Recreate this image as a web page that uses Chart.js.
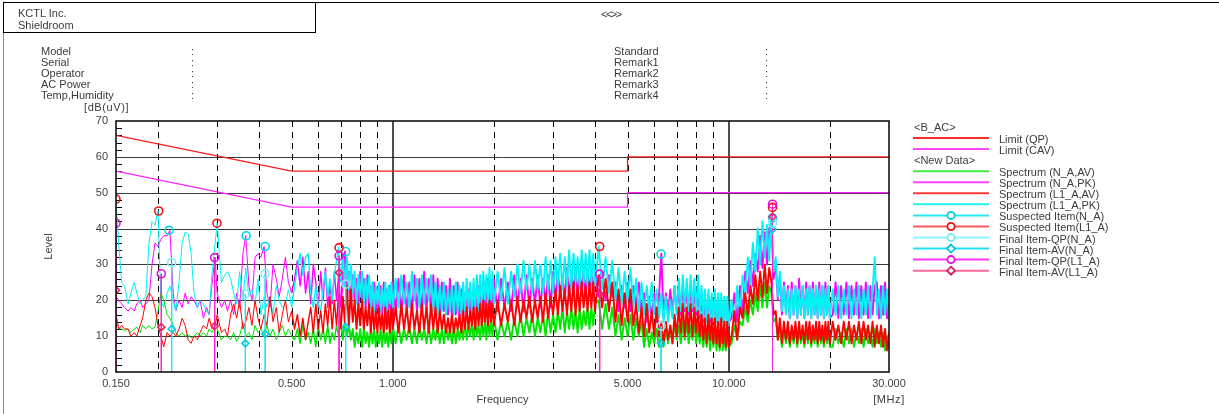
<!DOCTYPE html>
<html><head><meta charset="utf-8">
<script src="https://cdn.jsdelivr.net/npm/chart.js@4.4.1/dist/chart.umd.min.js"></script>
<style>
html,body{margin:0;padding:0;background:#fff;}
body{width:1219px;height:414px;position:relative;overflow:hidden;font-family:"Liberation Sans",Arial,sans-serif;font-size:11px;color:#3c3c3c;}
.t{position:absolute;white-space:nowrap;line-height:11px;font-size:11px;z-index:2;}
#c{position:absolute;left:0;top:0;z-index:1;}
#lg{position:absolute;left:0;top:0;z-index:2;}
</style></head><body>
<canvas id="c" width="1219" height="414"></canvas>
<div style="position:absolute;left:4px;top:2px;width:1215px;height:0;border-top:1.5px solid #000;z-index:2"></div>
<div style="position:absolute;left:3px;top:2px;width:0;height:412px;border-left:1.5px solid #8a8a8a;z-index:2"></div>
<div style="position:absolute;left:3px;top:2px;width:313px;height:31px;border:1.5px solid #000;box-sizing:border-box;z-index:2"></div>
<div class="t" style="left:18px;top:8px">KCTL Inc.</div>
<div class="t" style="left:18px;top:19.5px">Shieldroom</div>
<div class="t" style="left:601px;top:8.5px;letter-spacing:-1.5px">&lt;&lt;&gt;&gt;</div>
<div class="t" style="left:41px;top:45.5px">Model</div>
<div class="t" style="left:41px;top:56.5px">Serial</div>
<div class="t" style="left:41px;top:67.5px">Operator</div>
<div class="t" style="left:41px;top:78.5px">AC Power</div>
<div class="t" style="left:41px;top:89.5px">Temp,Humidity</div>
<div class="t" style="left:191px;top:45.5px">:</div>
<div class="t" style="left:191px;top:56.5px">:</div>
<div class="t" style="left:191px;top:67.5px">:</div>
<div class="t" style="left:191px;top:78.5px">:</div>
<div class="t" style="left:191px;top:89.5px">:</div>
<div class="t" style="left:614px;top:45.5px">Standard</div>
<div class="t" style="left:614px;top:56.5px">Remark1</div>
<div class="t" style="left:614px;top:67.5px">Remark2</div>
<div class="t" style="left:614px;top:78.5px">Remark3</div>
<div class="t" style="left:614px;top:89.5px">Remark4</div>
<div class="t" style="left:765px;top:45.5px">:</div>
<div class="t" style="left:765px;top:56.5px">:</div>
<div class="t" style="left:765px;top:67.5px">:</div>
<div class="t" style="left:765px;top:78.5px">:</div>
<div class="t" style="left:765px;top:89.5px">:</div>
<div class="t" style="left:84px;top:101.5px;letter-spacing:0.6px">[dB(uV)]</div>
<div class="t" style="left:859px;top:393.5px;width:60px;text-align:center;letter-spacing:0.6px">[MHz]</div>
<svg id="lg" width="1219" height="414"></svg>
<script>
// ---------------- DATA ----------------
const freqs = [
// 0.15 - 0.5
0.150,0.153,0.156,0.159,0.163,0.166,0.170,0.173,0.177,0.180,
0.184,0.188,0.192,0.196,0.200,0.204,0.208,0.213,0.217,0.222,
0.226,0.231,0.236,0.241,0.246,0.251,0.256,0.262,0.267,0.273,
0.279,0.284,0.290,0.296,0.300,0.309,0.316,0.322,0.329,0.336,
0.343,0.350,0.358,0.365,0.373,0.381,0.389,0.397,0.405,0.414,
0.422,0.431,0.440,0.450,0.459,0.469,0.479,0.489,0.500,
// 0.51 - 1.00
0.51,0.52,0.53,0.54,0.55,0.56,0.57,0.58,0.59,0.60,
0.61,0.62,0.63,0.64,0.65,0.66,0.67,0.68,0.69,0.70,
0.71,0.72,0.73,0.74,0.75,0.76,0.77,0.78,0.79,0.80,
0.81,0.82,0.83,0.84,0.85,0.86,0.87,0.88,0.89,0.90,
0.91,0.92,0.93,0.94,0.95,0.96,0.97,0.98,0.99,1.00,
// 1.02 - 2.00
1.02,1.04,1.06,1.08,1.10,1.12,1.14,1.16,1.18,1.20,
1.22,1.24,1.26,1.28,1.30,1.32,1.34,1.36,1.38,1.40,
1.42,1.44,1.46,1.48,1.50,1.52,1.54,1.56,1.58,1.60,
1.62,1.64,1.66,1.68,1.70,1.72,1.74,1.76,1.78,1.80,
1.82,1.84,1.86,1.88,1.90,1.92,1.94,1.96,1.98,2.00,
// 2.05 - 4.00
2.05,2.10,2.15,2.20,2.25,2.30,2.35,2.40,2.45,2.50,
2.55,2.60,2.65,2.70,2.75,2.80,2.85,2.90,2.95,3.00,
3.05,3.10,3.15,3.20,3.25,3.30,3.35,3.40,3.45,3.50,
3.55,3.60,3.65,3.70,3.75,3.80,3.85,3.90,3.95,4.00,
// 4.1 - 10.0
4.1,4.2,4.3,4.4,4.5,4.6,4.7,4.8,4.9,5.0,
5.1,5.2,5.3,5.4,5.5,5.6,5.7,5.8,5.9,6.0,
6.1,6.2,6.3,6.4,6.5,6.6,6.7,6.8,6.9,7.0,
7.1,7.2,7.3,7.4,7.5,7.6,7.7,7.8,7.9,8.0,
8.1,8.2,8.3,8.4,8.5,8.6,8.7,8.8,8.9,9.0,
9.1,9.2,9.3,9.4,9.5,9.6,9.7,9.8,9.9,10.0,
// 10.2 - 20.0
10.2,10.4,10.6,10.8,11.0,11.2,11.4,11.6,11.8,12.0,
12.2,12.4,12.6,12.8,13.0,13.2,13.4,13.6,13.8,14.0,
14.2,14.4,14.6,14.8,15.0,15.2,15.4,15.6,15.8,16.0,
16.2,16.4,16.6,16.8,17.0,17.2,17.4,17.6,17.8,18.0,
18.2,18.4,18.6,18.8,19.0,19.2,19.4,19.6,19.8,20.0,
// 20.4 - 30.0
20.4,20.8,21.2,21.6,22.0,22.4,22.8,23.2,23.6,24.0,
24.4,24.8,25.2,25.6,26.0,26.4,26.8,27.2,27.6,28.0,
28.4,28.8,29.2,29.6,30.0
];
// Spectrum (N_A,AV) - green
const naAV = [
14,12,12,11.5,12,11,12,12.5,11,13,
12,13,12,12.5,17,22,20,16,15,13,
11,10,11,10,10.5,9.5,10,11,10,11,
10,12,11,13,12,9,10,10,9,11,
8.5,10,14,10,11,9,13,11,12,10,
13,10,12,9,11,13,10,12,10,
9,12,8,13,9,11,8,12,7,13,
9,12,8,13,8,11,9,13,10,14,
9,14,10,13,9,12,7,11,8,12,
7,12,8,11,7,12,8,12,7,11,
8,12,7,12,8,11,7,12,8,13,
8,13,8,12,9,13,8,12,8,13,
9,12,8,13,8,12,9,13,8,12,
8,13,9,12,8,13,8,12,9,13,
9,14,9,13,10,14,9,14,10,13,
9,14,10,14,9,15,10,14,10,15,
9,14,10,14,9,15,10,16,10,15,
11,16,10,15,11,16,10,17,11,16,
11,17,12,18,11,17,12,18,12,17,
11,18,12,17,13,18,12,18,13,19,
20,12,19,12,18,10,16,9,15,10,
16,9,15,10,14,7,12,7,11,8,
12,7,11,7,12,8,13,8,14,9,
13,8,14,9,14,8,13,9,14,8,
13,8,13,7,12,7,13,6,12,7,
12,6,11,6,12,6,11,6,10,7,
8,13,9,14,13,18,14,20,16,22,
17,24,18,25,18,24,22,14,15,9,
13,7,12,8,12,7,11,8,12,7,
12,8,11,7,12,8,12,7,11,8,
12,7,12,8,11,7,12,8,12,7,
7,12,8,11,7,12,8,12,7,11,
8,12,7,12,8,11,7,12,8,11,
7,11,6,10,6
];
// Spectrum (N_A,PK) - magenta
const naPK = [
21,20,19,18,17,18,17,19,20,18,
19,20,30,36,35,37,38,38,39.5,22,
17,20,18,22,19,21,20,18,20,15,
18,16,25,32,22,18,20,17,20,16,
22,18,33,38,24,20,32,33,32,35,
22,18,30,26,21,26,32,25,22,
26,31,24,32,22,28,19,30,25,18,
28,20,29,18,24,19,28,20,27,18,
26,33.6,19,28,18,27,20,26,18,28,
19,26,18,27,17,24,15,25,16,23,
15,24,16,25,15,23,16,24,15,25,
17,26,16,27,17,25,16,27,17,26,
16,28,17,26,16,27,17,26,16,25,
17,24,16,26,15,24,16,25,15,23,
15,22,16,23,15,22,16,23,15,24,
16,24,17,25,16,26,17,25,16,26,
17,26,18,25,17,27,18,26,17,27,
18,26,19,27,18,26,19,27,18,28,
20,28,21,27,20,29,21,28,22,29,
21,28,22,29,21,28,22,29,21,28,
21,28,20,27,21,25,17,24,18,25,
17,24,18,25,17,22,14,21,15,22,
14,21,33,15,22,16,23,16,24,17,
23,16,24,17,23,16,24,17,23,16,
24,15,21,14,20,15,21,14,20,15,
21,14,20,14,19,14,20,14,19,14,
15,22,14,24,16,28,22,31,24,33,
28,38,29,39,30,40,42,26,30,20,
27,16,25,17,24,15,25,16,24,15,
26,16,24,15,25,16,24,15,25,16,
24,15,25,16,24,15,25,16,24,15,
16,25,15,24,16,25,15,24,16,25,
15,24,16,25,15,24,16,24,25,15,
24,16,25,15,23
];
// Spectrum (L1_A,AV) - red
const l1AV = [
16,12,13,12,12,10,11,10,13,15,
20,22,21,18,13,10,7,11,10,11,
10,12,15,13,9,8,10,9,11,13,
12,15,12,13,16,11,12,10,16,19,
15,20,12,14,18,13,20,15,12,16,
13,21,14,18,11,16,20,14,17,
12,16,10,15,9,14,18,11,19,12,
17,11,19,13,21,12,20,13,22,12,
21,14,24,13,23,14,20,12,19,13,
20,12,18,13,19,11,18,12,17,11,
18,12,16,11,18,12,17,11,18,12,
18,11,19,12,18,11,19,12,17,11,
19,12,18,11,19,12,18,11,17,12,
16,11,15,11,16,11,15,12,16,11,
17,12,18,12,17,13,18,12,18,13,
19,13,20,14,19,13,20,14,19,13,
20,13,19,14,20,13,21,14,20,15,
21,14,20,15,21,14,22,15,21,16,
23,16,24,17,23,16,24,17,25,16,
24,17,25,18,24,17,25,18,25,17,
27,18,26,17,25,14,23,13,22,14,
23,13,19,11,18,10,19,11,17,10,
18,10,14,8,14,9,13,8,16,10,
18,11,19,10,18,11,19,10,18,11,
17,10,16,9,15,8,16,9,15,8,
15,8,14,7,15,8,14,7,14,7,
10,17,9,18,15,22,16,24,19,27,
20,28,21,30,22,29,25,16,17,9,
15,8,14,9,14,8,13,9,14,8,
14,9,13,8,14,9,14,8,13,9,
14,8,14,9,13,8,14,9,14,8,
14,9,13,8,14,9,14,8,13,9,
14,8,14,9,13,8,14,7,13,8,
13,7,12,6,11
];
// Spectrum (L1_A,PK) - cyan
const l1PK = [
48,35,25,24,19,22,25,22,19,20,
21,36,42,41,45,20,18,22,24,20,
17,25,36,39,38.5,33,22,18,20,19,
17,16,28,36,41.5,25,27,28,26,22,
19,28,20,29,21,23,19,26,16,21,
18,21,16,24,20,18,19,23,18,
24,29,33,27,32,33,22,18,24,19,
17,23,28,21,26,20,27,31,34.7,25,
33,24,32,23,30,22,28,19,27,21,
28,19,26,20,27,18,25,17,24,19,
25,17,23,18,25,17,24,19,25,18,
26,18,27,19,25,18,28,20,26,18,
27,19,26,20,27,17,25,16,24,17,
25,16,23,17,24,16,25,17,24,16,
25,17,26,18,25,17,26,18,27,17,
27,19,28,20,27,19,29,20,28,19,
28,20,29,19,28,21,30,22,31,23,
30,22,31,23,30,22,32,23,31,22,
32,24,33,23,32,24,34,23,33,25,
32,24,34,25,33,24,34,25,33,24,
35,23,32,22,31,20,29,19,28,20,
29,18,26,17,25,16,24,17,25,16,
23,15,22,14,21,14,20,15,24,16,
26,17,27,18,26,17,27,18,26,17,
27,16,24,15,23,14,23,15,22,14,
23,14,22,13,22,14,21,13,21,13,
20,14,24,16,27,22,32,24,36,28,
40,30,42,32,41,31,44,28,32,21,
28,17,24,16,23,15,23,16,24,15,
23,16,24,15,23,16,24,15,23,16,
24,15,23,16,24,15,23,16,24,15,
23,16,24,15,23,16,24,15,23,16,
24,15,23,16,24,15,23,32,16,23,
15,24,16,23,15
];
// Limit lines
const limitQPFreqs  = [0.15, 0.5, 5, 5, 30];
const limitQPLevels = [66, 56, 56, 60, 60];
const limitCAVFreqs  = [0.15, 0.5, 5, 5, 30];
const limitCAVLevels = [56, 46, 46, 50, 50];
// Suspected items
const suspNAFreqs  = [0.2157, 0.366, 0.417, 0.724, 6.29, 13.5];
const suspNALevels = [39.5, 38.0, 35.0, 33.6, 32.9, 43.0];
const suspL1Freqs  = [0.150, 0.201, 0.2997, 0.692, 4.13, 13.5];
const suspL1Levels = [48.2, 44.9, 41.5, 34.7, 35.0, 45.9];
// Final items
const finalNAFreqs  = [0.2197, 0.364, 0.417, 0.724, 6.29, 13.5];
const finalNAQP     = [30.5, 21.8, 27.4, 24.5, 12.8, 41.5];
const finalNAAV     = [12.0, 8.0, 10.6, 12.6, 8.0, 39.8];
const finalL1Freqs  = [0.150, 0.2046, 0.295, 0.692, 4.13, 13.5];
const finalL1QP     = [41.5, 27.4, 31.9, 32.4, 27.3, 46.8];
const finalL1AV     = [22.8, 12.5, 12.8, 27.7, 21.8, 43.3];
// Axis ticks / grid
const xTickValues = [0.15, 0.5, 1, 5, 10, 30];
const gridLevels = [10, 20, 30, 40, 50, 60];
const gridDashedFreqs = [0.2,0.3,0.4,0.5,0.6,0.7,0.8,0.9,2,3,4,5,6,7,8,9,20];
const gridSolidFreqs = [1, 10];
// Legend
const legendEntries = [
 {head:'<B_AC>'},
 {label:'Limit (QP)', line:'#ff2b2b'},
 {label:'Limit (CAV)', line:'#ff44ff'},
 {head:'<New Data>'},
 {label:'Spectrum (N_A,AV)', line:'#3ef03e'},
 {label:'Spectrum (N_A,PK)', line:'#ff44ff'},
 {label:'Spectrum (L1_A,AV)', line:'#ff3a3a'},
 {label:'Spectrum (L1_A,PK)', line:'#22f2f2'},
 {label:'Suspected Item(N_A)', line:'#22e8f2', mark:'circle', mc:'#00cce0'},
 {label:'Suspected Item(L1_A)', line:'#ff5a5a', mark:'circle', mc:'#e81010'},
 {label:'Final Item-QP(N_A)', line:'#8af8ff', mark:'circle', mc:'#7ae8f5'},
 {label:'Final Item-AV(N_A)', line:'#22e0f2', mark:'diamond', mc:'#00c4e0'},
 {label:'Final Item-QP(L1_A)', line:'#ff33ff', mark:'circle', mc:'#e010e0'},
 {label:'Final Item-AV(L1_A)', line:'#ff6a96', mark:'diamond', mc:'#e0185e'}
];

// ---------------- BUILD ----------------
const FONT = "'Liberation Sans', Arial, sans-serif";
const pts = (fs, vs) => fs.map((f, i) => ({x: f, y: vs[i]}));
const stems = (fs, vs) => { const o = []; fs.forEach((f, i) => { o.push({x: f, y: vs[i]}, {x: f, y: 0}, {x: f, y: null}); }); return o; };

// thin line at low frequencies, heavier stroke where the measured trace is a dense noise band
const bandWidth = c => (c.p0.parsed.x >= 0.7 ? 1.9 : (c.p0.parsed.x >= 0.5 ? 1.4 : 1));
const traceDs = (label, data, color, order) => ({label, data, borderColor: color, borderWidth: 1, borderJoinStyle: 'round',
  segment: { borderWidth: bandWidth }, pointRadius: 0, order, spanGaps: true});
const markDs = (label, data, color, style, order) => ({label, data, showLine: false, borderColor: color, backgroundColor: 'rgba(255,255,255,0)',
  pointStyle: style, pointRadius: style === 'rectRot' ? 3.5 : 4, pointBorderWidth: 1.6, pointBorderColor: color, pointBackgroundColor: 'rgba(255,255,255,0)', order});

const gridPlugin = {
  id: 'emcGrid',
  beforeDatasetsDraw(chart) {
    const {ctx, chartArea: a, scales: {x, y}} = chart;
    ctx.save();
    ctx.beginPath(); ctx.rect(a.left, a.top, a.right - a.left, a.bottom - a.top); ctx.clip();
    ctx.lineWidth = 1; ctx.strokeStyle = '#3a3a3a';
    gridLevels.forEach(v => { const py = Math.round(y.getPixelForValue(v)) + 0.5; ctx.beginPath(); ctx.moveTo(a.left, py); ctx.lineTo(a.right, py); ctx.stroke(); });
    ctx.setLineDash([6, 5]); ctx.strokeStyle = '#000';
    gridDashedFreqs.forEach(f => { const px = Math.round(x.getPixelForValue(f)) + 0.5; ctx.beginPath(); ctx.moveTo(px, a.top); ctx.lineTo(px, a.bottom); ctx.stroke(); });
    ctx.setLineDash([]); ctx.strokeStyle = '#222'; ctx.lineWidth = 1.6;
    gridSolidFreqs.forEach(f => { const px = Math.round(x.getPixelForValue(f)); ctx.beginPath(); ctx.moveTo(px, a.top); ctx.lineTo(px, a.bottom); ctx.stroke(); });
    ctx.lineWidth = 1; ctx.strokeStyle = '#000';
    for (let v = 2; v < 70; v += 2) { if (v % 10 === 0) continue; const py = Math.round(y.getPixelForValue(v)) + 0.5; ctx.beginPath(); ctx.moveTo(a.left, py); ctx.lineTo(a.left + 6, py); ctx.stroke(); }
    ctx.restore();
  },
  afterDatasetsDraw(chart) {
    const {ctx, chartArea: a} = chart;
    ctx.save(); ctx.strokeStyle = '#111'; ctx.lineWidth = 1.6;
    ctx.strokeRect(a.left, a.top, a.right - a.left, a.bottom - a.top);
    ctx.restore();
  }
};

new Chart(document.getElementById('c'), {
  type: 'line',
  data: { datasets: [
    markDs('Final Item-QP(L1_A)', pts(finalL1Freqs, finalL1QP), '#e010e0', 'circle', 0),
    markDs('Final Item-AV(L1_A)', pts(finalL1Freqs, finalL1AV), '#ee2266', 'rectRot', 0),
    markDs('Final Item-QP(N_A)', pts(finalNAFreqs, finalNAQP), '#80eef8', 'circle', 0),
    markDs('Final Item-AV(N_A)', pts(finalNAFreqs, finalNAAV), '#00cce8', 'rectRot', 0),
    markDs('Suspected Item(L1_A)', pts(suspL1Freqs, suspL1Levels), '#ee1111', 'circle', 1),
    markDs('Suspected Item(N_A)', pts(suspNAFreqs, suspNALevels), '#00d8ea', 'circle', 1),
    {label: 'stemsL1', data: stems(finalL1Freqs, finalL1QP), borderColor: '#ff22cc', borderWidth: 1, pointRadius: 0, spanGaps: false, order: 2},
    {label: 'stemsNA', data: stems(finalNAFreqs, finalNAQP), borderColor: '#22e4f4', borderWidth: 1, pointRadius: 0, spanGaps: false, order: 2},
    {label: 'Limit (QP)', data: pts(limitQPFreqs, limitQPLevels), borderColor: '#ff1a1a', borderWidth: 1.3, pointRadius: 0, order: 3},
    {label: 'Limit (CAV)', data: pts(limitCAVFreqs, limitCAVLevels), borderColor: '#ff22ff', borderWidth: 1.3, pointRadius: 0, order: 3},
    traceDs('Spectrum (L1_A,AV)', pts(freqs, l1AV), '#ff0000', 4),
    traceDs('Spectrum (N_A,AV)', pts(freqs, naAV), '#00e600', 5),
    traceDs('Spectrum (L1_A,PK)', pts(freqs, l1PK), '#00f4f4', 6),
    traceDs('Spectrum (N_A,PK)', pts(freqs, naPK), '#ff00ff', 7)
  ]},
  options: {
    responsive: false, animation: false, events: [],
    layout: { padding: { left: 35, top: 121, right: 330, bottom: 0 } },
    plugins: { legend: { display: false }, tooltip: { enabled: false } },
    elements: { line: { tension: 0 } },
    scales: {
      x: {
        type: 'logarithmic', min: 0.15, max: 30, position: 'bottom',
        grid: { display: false, drawTicks: false, tickLength: 0 }, border: { display: false },
        afterBuildTicks: s => { s.ticks = xTickValues.map(v => ({value: v})); },
        afterFit: s => { s.height = 42; },
        ticks: { autoSkip: false, maxRotation: 0, minRotation: 0, padding: 5, color: '#404040', font: { family: FONT, size: 11 },
                 callback: v => Number(v).toFixed(3) },
        title: { display: true, text: 'Frequency', color: '#404040', font: { family: FONT, size: 11 }, padding: { top: 0, bottom: 7 } }
      },
      y: {
        min: 0, max: 70,
        grid: { display: false, drawTicks: false, tickLength: 0 }, border: { display: false },
        afterFit: s => { s.width = 81; },
        ticks: { stepSize: 10, padding: 8, color: '#404040', font: { family: FONT, size: 11 } },
        title: { display: true, text: 'Level', color: '#404040', font: { family: FONT, size: 11 }, padding: { top: 7, bottom: 0 } }
      }
    }
  },
  plugins: [gridPlugin]
});

// ---------------- LEGEND ----------------
(function () {
  const svg = document.getElementById('lg');
  const NS = 'http://www.w3.org/2000/svg';
  legendEntries.forEach((e, i) => {
    const yl = 127 + i * 11.05;
    if (e.head) {
      const d = document.createElement('div'); d.className = 't'; d.textContent = e.head;
      d.style.left = '914px'; d.style.top = (yl - 5.5) + 'px'; document.body.appendChild(d); return;
    }
    const ln = document.createElementNS(NS, 'line');
    ln.setAttribute('x1', 913); ln.setAttribute('x2', 989); ln.setAttribute('y1', yl); ln.setAttribute('y2', yl);
    ln.setAttribute('stroke', e.line); ln.setAttribute('stroke-width', 2); svg.appendChild(ln);
    if (e.mark === 'circle') {
      const c = document.createElementNS(NS, 'circle'); c.setAttribute('cx', 951); c.setAttribute('cy', yl); c.setAttribute('r', 3.6);
      c.setAttribute('fill', '#fff'); c.setAttribute('stroke', e.mc); c.setAttribute('stroke-width', 1.8); svg.appendChild(c);
    } else if (e.mark === 'diamond') {
      const p = document.createElementNS(NS, 'polygon');
      p.setAttribute('points', `951,${yl - 4} 955,${yl} 951,${yl + 4} 947,${yl}`);
      p.setAttribute('fill', '#fff'); p.setAttribute('stroke', e.mc); p.setAttribute('stroke-width', 1.8); svg.appendChild(p);
    }
    const d = document.createElement('div'); d.className = 't'; d.textContent = e.label;
    d.style.left = '999px'; d.style.top = (yl - 4) + 'px'; document.body.appendChild(d);
  });
})();
</script>
</body></html>
